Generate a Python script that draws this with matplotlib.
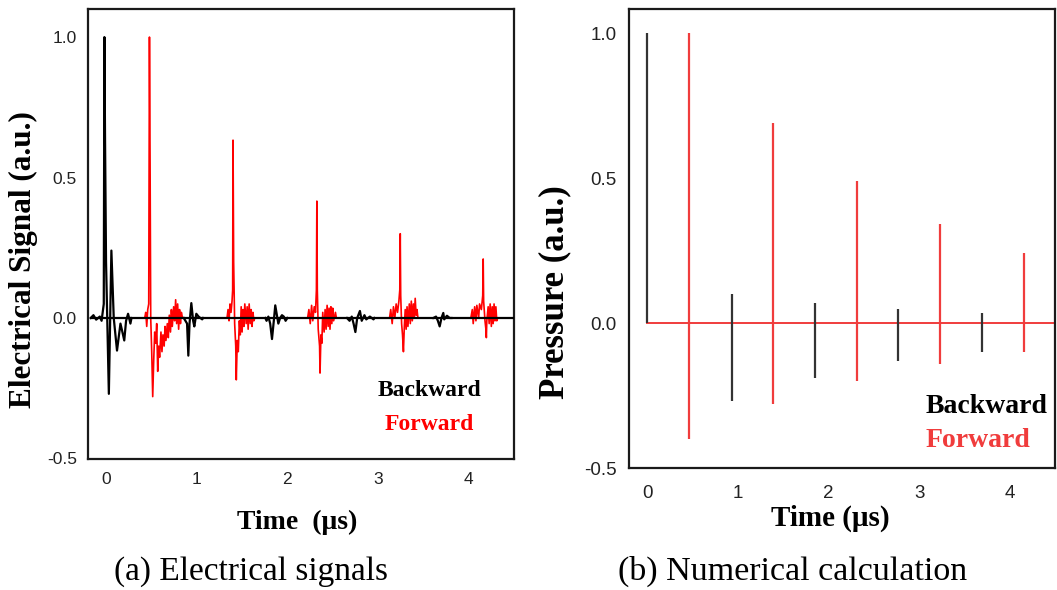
import numpy as np
import matplotlib
matplotlib.use("Agg")
import matplotlib.pyplot as plt

# ---- (a) measured electrical signals, read off the picture ----
# backward (black) echoes: time in us, amplitude a.u.
bw1_t = [-0.17, -0.14, -0.11, -0.07, -0.05, -0.026, -0.019, -0.012, -0.001, 0.03, 0.058, 0.084,
         0.12, 0.158, 0.176, 0.20, 0.22, 0.242, 0.268, 0.28]
bw1_v = [0.0, 0.01, -0.006, 0.005, -0.01, 0.05, 1.0, 0.64, 0.2, -0.27, 0.24, 0.0,
         -0.116, -0.02, -0.045, -0.08, -0.01, 0.015, -0.02, 0.0]
bw2_t = [0.856, 0.875, 0.893, 0.907, 0.92, 0.94, 0.96, 0.973, 0.995, 1.02, 1.04, 1.06, 1.07]
bw2_v = [0.0, -0.01, -0.02, -0.134, -0.02, 0.053, -0.01, -0.03, 0.015, 0.005, 0.0, -0.005, 0.0]
bw3_t = [1.756, 1.77, 1.79, 1.81, 1.83, 1.85, 1.866, 1.884, 1.90, 1.92, 1.94, 1.96, 1.98, 2.0]
bw3_v = [0.0, -0.01, 0.005, -0.02, -0.075, -0.01, 0.045, 0.01, -0.02, 0.0, 0.01, 0.005, -0.01, 0.0]
bw4_t = [2.657, 2.686, 2.71, 2.73, 2.75, 2.77, 2.80, 2.82, 2.85, 2.87, 2.91, 2.95, 2.96]
bw4_v = [0.0, -0.01, 0.005, -0.02, -0.05, 0.0, 0.025, -0.01, 0.01, -0.005, 0.005, -0.005, 0.0]
bw5_t = [3.61, 3.64, 3.66, 3.68, 3.70, 3.72, 3.73, 3.76, 3.79, 3.81]
bw5_v = [0.0, 0.005, -0.01, -0.03, 0.0, 0.018, -0.005, 0.008, 0.0, 0.0]

# forward (red) echoes
fw1_t = [0.426, 0.437, 0.448, 0.459, 0.47, 0.478, 0.485, 0.492, 0.503, 0.514, 0.525, 0.536,
         0.547, 0.558, 0.569, 0.58, 0.59, 0.605, 0.616, 0.627, 0.64, 0.65, 0.66, 0.675,
         0.686, 0.697, 0.71, 0.72, 0.73, 0.745, 0.756, 0.767, 0.778, 0.789, 0.80, 0.81,
         0.82, 0.83, 0.843]
fw1_v = [0.0, 0.02, -0.03, 0.03, 0.05, 1.0, 0.55, 0.0, -0.12, -0.28, -0.15, -0.05,
         -0.09, -0.02, -0.19, -0.10, -0.14, -0.05, -0.12, -0.06, -0.10, -0.03, -0.08, -0.02,
         -0.07, 0.01, -0.05, 0.03, -0.03, 0.04, -0.01, 0.065, -0.02, 0.05, -0.04, 0.03,
         -0.02, 0.02, 0.0]
fw2_t = [1.334, 1.345, 1.356, 1.367, 1.378, 1.389, 1.396, 1.40, 1.407, 1.418, 1.43, 1.436,
         1.447, 1.458, 1.47, 1.48, 1.49, 1.50, 1.51, 1.52, 1.53, 1.545, 1.556, 1.567,
         1.578, 1.59, 1.60, 1.61, 1.62, 1.63, 1.64]
fw2_v = [0.0, 0.03, -0.01, 0.05, 0.02, 0.06, 0.10, 0.633, 0.2, -0.02, -0.10, -0.22,
         -0.08, -0.12, -0.01, -0.06, 0.04, -0.05, 0.03, -0.03, 0.05, -0.02, 0.04, -0.04,
         0.05, -0.02, 0.03, -0.03, 0.02, -0.01, 0.0]
fw3_t = [2.223, 2.237, 2.252, 2.267, 2.28, 2.296, 2.31, 2.32, 2.325, 2.33, 2.34, 2.355,
         2.36, 2.37, 2.38, 2.39, 2.405, 2.416, 2.427, 2.438, 2.45, 2.46, 2.47, 2.48,
         2.49, 2.50, 2.51, 2.53, 2.54]
fw3_v = [0.0, 0.03, -0.02, 0.045, -0.01, 0.04, 0.02, 0.10, 0.416, 0.10, -0.04, -0.10,
         -0.196, -0.06, -0.09, 0.02, -0.05, 0.03, -0.04, 0.045, -0.03, 0.035, -0.04, 0.04,
         -0.02, 0.035, -0.01, 0.02, 0.0]
fw4_t = [3.127, 3.14, 3.156, 3.17, 3.185, 3.20, 3.215, 3.23, 3.24, 3.245, 3.25, 3.26,
         3.27, 3.28, 3.29, 3.30, 3.31, 3.32, 3.33, 3.345, 3.356, 3.367, 3.378, 3.39,
         3.40, 3.41, 3.42, 3.43, 3.44]
fw4_v = [0.0, 0.03, -0.02, 0.04, 0.0, 0.05, 0.02, 0.06, 0.10, 0.30, 0.08, -0.02,
         -0.06, -0.12, -0.03, 0.03, -0.04, 0.04, -0.03, 0.05, -0.02, 0.06, -0.01, 0.05,
         0.0, 0.07, 0.01, 0.03, 0.0]
fw5_t = [4.024, 4.04, 4.05, 4.066, 4.08, 4.09, 4.11, 4.12, 4.14, 4.155, 4.16, 4.165,
         4.18, 4.19, 4.195, 4.20, 4.215, 4.226, 4.237, 4.25, 4.26, 4.27, 4.28, 4.29,
         4.30, 4.31, 4.32]
fw5_v = [0.0, 0.03, -0.02, 0.04, -0.01, 0.045, 0.0, 0.05, 0.03, 0.08, 0.21, 0.06,
         -0.01, -0.04, -0.07, -0.01, 0.04, -0.02, 0.05, -0.03, 0.04, -0.02, 0.05, -0.01,
         0.04, -0.01, 0.0]

# ---- (b) numerical calculation: spike times and extremes ----
calc_bw_t = [0.0, 0.94, 1.85, 2.77, 3.70]
calc_bw_max = [1.0, 0.10, 0.07, 0.05, 0.035]
calc_bw_min = [0.0, -0.27, -0.19, -0.13, -0.10]
calc_fw_t = [0.466, 1.39, 2.31, 3.23, 4.16]
calc_fw_max = [1.0, 0.69, 0.49, 0.34, 0.24]
calc_fw_min = [-0.40, -0.28, -0.20, -0.14, -0.10]

xticks = [0, 1, 2, 3, 4]
yticks = [-0.5, 0.0, 0.5, 1.0]

serif_b = dict(family="Liberation Serif", weight="bold")

fig = plt.figure(figsize=(10.57, 5.90), dpi=100)
ax1 = fig.add_axes([88 / 1057, 1 - 459 / 590, 426 / 1057, 450 / 590])
ax2 = fig.add_axes([629 / 1057, 1 - 468 / 590, 426 / 1057, 459 / 590])

# panel a
ax1.plot([-0.17, 4.5], [0, 0], color="black", lw=1.6, zorder=3)
for t, v in [(fw1_t, fw1_v), (fw2_t, fw2_v), (fw3_t, fw3_v), (fw4_t, fw4_v), (fw5_t, fw5_v)]:
    ax1.plot(t, v, color="red", lw=1.2, zorder=2)
for t, v in [(bw1_t, bw1_v), (bw2_t, bw2_v), (bw3_t, bw3_v), (bw4_t, bw4_v), (bw5_t, bw5_v)]:
    ax1.plot(t, v, color="black", lw=1.6, zorder=4)
ax1.set_xlim(-0.2, 4.5)
ax1.set_ylim(-0.502, 1.10)
ax1.text(0.681, 0.153, "Backward", transform=ax1.transAxes, color="black",
         fontsize=17, va="center", ha="left", **serif_b)
ax1.text(0.697, 0.077, "Forward", transform=ax1.transAxes, color="red",
         fontsize=17, va="center", ha="left", **serif_b)
ax1.set_xlabel("Time  (\u03bcs)", fontsize=20, **serif_b)
ax1.xaxis.label.set_va("center")
ax1.xaxis.set_label_coords(0.49, -0.142)
ax1.set_ylabel("Electrical Signal (a.u.)", fontsize=22.5, **serif_b)
ax1.yaxis.label.set_va("center")
ax1.yaxis.set_label_coords(-0.152, 0.444)
ax1.tick_params(length=0, labelsize=12.5, labelcolor="#222222")
ax1.tick_params(axis="x", pad=9)
ax1.tick_params(axis="y", pad=8)

# panel b
ax2.plot([0, 4.5], [0, 0], color="#f03c3c", lw=1.4, zorder=2)
ax2.vlines(calc_bw_t, calc_bw_min, calc_bw_max, color="#333333", lw=1.6, zorder=3)
ax2.vlines(calc_fw_t, calc_fw_min, calc_fw_max, color="#f03c3c", lw=1.6, zorder=3)
ax2.set_xlim(-0.2, 4.5)
ax2.set_ylim(-0.5, 1.083)
ax2.text(0.695, 0.133, "Backward", transform=ax2.transAxes, color="black",
         fontsize=20, va="center", ha="left", **serif_b)
ax2.text(0.695, 0.059, "Forward", transform=ax2.transAxes, color="#f03c3c",
         fontsize=20, va="center", ha="left", **serif_b)
ax2.set_xlabel("Time (\u03bcs)", fontsize=21, **serif_b)
ax2.xaxis.label.set_va("center")
ax2.xaxis.set_label_coords(0.472, -0.109)
ax2.set_ylabel("Pressure (a.u.)", fontsize=25, **serif_b)
ax2.yaxis.label.set_va("center")
ax2.yaxis.set_label_coords(-0.174, 0.383)
ax2.tick_params(length=0, labelsize=13.5, labelcolor="#222222")
ax2.tick_params(axis="x", pad=12)
ax2.tick_params(axis="y", pad=9)

for ax in (ax1, ax2):
    ax.set_xticks(xticks)
    ax.set_yticks(yticks)
    ax.set_xticklabels([str(x) for x in xticks], family="Liberation Sans")
    ax.set_yticklabels(["%.1f" % y for y in yticks], family="Liberation Sans")
    for s in ax.spines.values():
        s.set_linewidth(1.6)
        s.set_color("#1a1a1a")

fig.text(251.5 / 1057, 1 - 572 / 590, "(a) Electrical signals", ha="center", va="center",
         fontsize=24, family="Liberation Serif")
fig.text(793 / 1057, 1 - 571 / 590, "(b) Numerical calculation", ha="center", va="center",
         fontsize=24.5, family="Liberation Serif")

fig.savefig("out.png", dpi=100)
